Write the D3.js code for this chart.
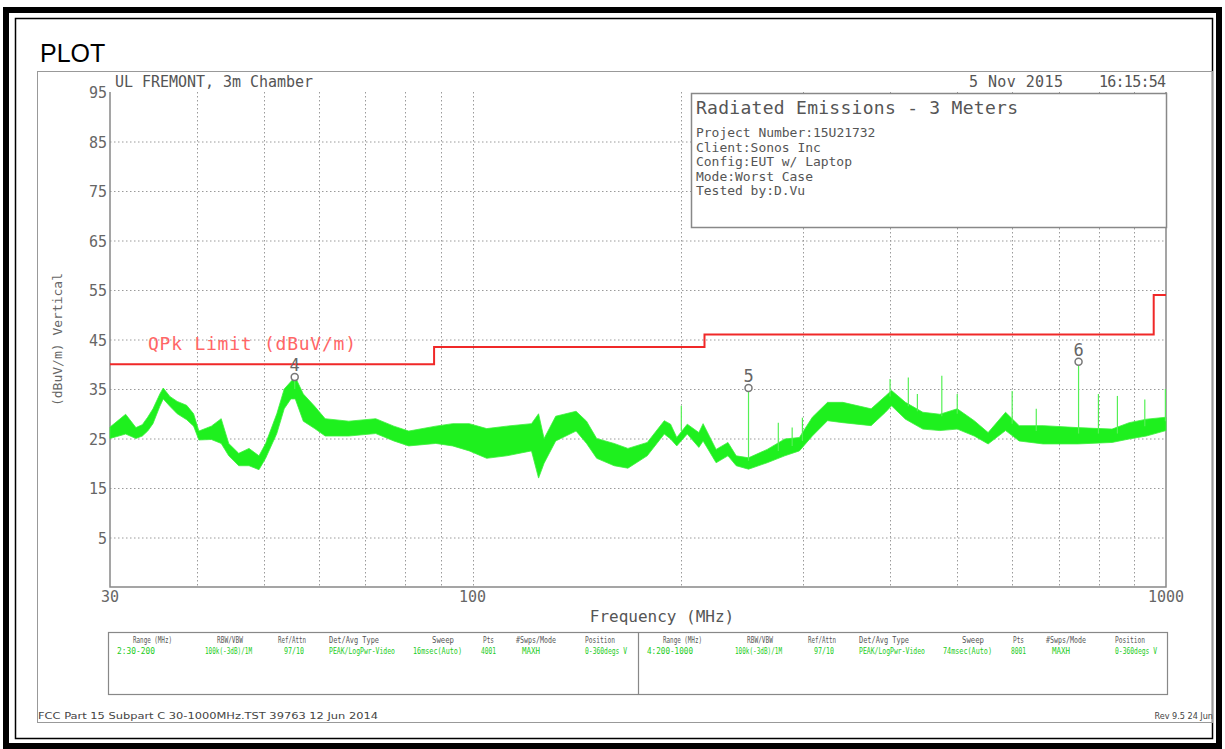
<!DOCTYPE html>
<html>
<head>
<meta charset="utf-8">
<script src="https://cdn.jsdelivr.net/npm/d3@7"></script>
<style>
  body { margin: 0; background: #fff; }
  svg text { font-family: "DejaVu Sans Mono", monospace; }
</style>
</head>
<body>
<div id="chart"></div>
<script>
// ---- data ----
// y ticks (dBuV/m) and x tick labels (MHz)
const yTicks = [5, 15, 25, 35, 45, 55, 65, 75, 85, 95];
const xGrid = [40, 50, 60, 70, 80, 90, 200, 300, 400, 500, 600, 700, 800, 900];
const xLabels = [30, 100, 1000];

// QPk limit steps (MHz, dBuV/m)
const limitFreq = [30, 88, 216, 960, 1000];
const limitLevel = [40, 43.5, 46, 54, 54];

// measured trace envelope (MHz, low, high)
const traceFreq = [30, 31.6, 32.7, 33.4, 34.0, 34.6, 35.4, 35.8, 36.6, 37.5, 38.7, 39.6, 40.3, 42.0, 43.4, 44.5, 46, 47.6, 49.2, 50.3, 52.2, 53.5, 54.7, 55.5, 57, 59.2, 61.3, 66.3, 72.5, 77, 80.9, 88.5, 93.6, 98.9, 104.8, 112, 121.6, 124.5, 126.8, 131.8, 141, 146, 151, 160, 167.5, 178.6, 189, 193, 197, 204, 212, 215, 224.5, 233.5, 240, 250, 266, 282, 296, 309, 325, 342, 375.6, 394, 402, 421, 446, 472, 500, 529, 554, 587, 614, 665, 746, 836, 885, 937, 1000];
const traceLo   = [25.0, 25.9, 25.0, 25.5, 26.5, 28.0, 31.5, 33.0, 31.5, 30.0, 28.8, 27.5, 24.7, 24.8, 24.0, 21.5, 19.5, 19.5, 18.7, 21.0, 26.0, 31.0, 33.0, 33.0, 28.5, 27.0, 25.5, 25.5, 26.0, 24.5, 23.5, 24.0, 23.5, 22.5, 21.0, 21.5, 22.5, 17.0, 20.0, 24.5, 26.5, 24.0, 21.0, 19.5, 19.0, 21.5, 25.9, 24.9, 23.5, 25.9, 23.2, 24.5, 20.1, 21.5, 19.5, 18.8, 20.1, 21.5, 22.5, 25.5, 28.6, 28.2, 27.6, 30.3, 31.6, 28.9, 26.9, 26.6, 26.9, 25.5, 23.9, 26.6, 24.5, 23.9, 23.9, 24.2, 24.9, 25.5, 26.6];
const traceHi   = [27.3, 29.9, 27.2, 27.8, 29.3, 31.0, 34.0, 35.2, 33.5, 32.5, 31.7, 30.0, 26.5, 27.5, 29.0, 24.0, 22.0, 23.0, 21.5, 24.0, 30.0, 35.0, 36.5, 37.4, 34.0, 31.5, 29.0, 28.5, 29.0, 27.5, 26.5, 27.5, 28.0, 28.0, 27.0, 27.5, 28.0, 30.0, 25.0, 29.5, 30.5, 28.5, 25.0, 24.0, 23.0, 24.2, 28.6, 27.9, 25.2, 27.9, 26.2, 28.0, 22.8, 24.2, 21.5, 21.1, 22.8, 24.9, 25.2, 29.3, 32.3, 32.3, 31.0, 33.6, 34.7, 32.3, 30.3, 29.9, 31.0, 28.6, 26.2, 30.3, 27.6, 27.6, 27.2, 26.9, 28.2, 28.9, 29.3];

// narrow spikes above the trace (MHz, top and foot in dBuV/m)
const spikeFreq = [200, 276, 289, 299, 400, 425, 438, 475, 500, 600, 650, 799, 851, 932, 998];
const spikeTop  = [31.6, 28.2, 27.2, 29.2, 37.0, 37.3, 34.0, 37.7, 34.0, 34.6, 31.0, 34.0, 33.6, 32.9, 35.0];
const spikeFoot = [26.5, 22.5, 23.5, 24.5, 33.5, 31.5, 30.5, 29.5, 30.0, 28.0, 26.5, 26.0, 26.0, 27.5, 28.5];

// markers
const markerId = ["4", "5", "6"];
const markerFreq = [55.4, 250, 748];
const markerLevel = [37.4, 35.2, 40.5];
const markerFoot = [35, 20.5, 26];

// info box lines
const infoLines = ["Project Number:15U21732", "Client:Sonos Inc", "Config:EUT w/ Laptop", "Mode:Worst Case", "Tested by:D.Vu"];

// bottom settings table
const tableHead = ["Range (MHz)", "RBW/VBW", "Ref/Attn", "Det/Avg Type", "Sweep", "Pts", "#Swps/Mode", "Position"];
const tableRow1 = ["2:30-200", "100k(-3dB)/1M", "97/10", "PEAK/LogPwr-Video", "16msec(Auto)", "4001", "MAXH", "0-360degs V"];
const tableRow2 = ["4:200-1000", "100k(-3dB)/1M", "97/10", "PEAK/LogPwr-Video", "74msec(Auto)", "8001", "MAXH", "0-360degs V"];

// ---- drawing ----
const W = 1225, H = 749;
const svg = d3.select("#chart").append("svg")
    .attr("width", W)
    .attr("height", H);

// page frame
svg.append("rect").attr("x", 6).attr("y", 10).attr("width", 1213).attr("height", 736)
    .attr("fill", "none").attr("stroke", "#000").attr("stroke-width", 6);
svg.append("rect").attr("x", 15.5).attr("y", 18.5).attr("width", 1197).attr("height", 720)
    .attr("fill", "none").attr("stroke", "#000").attr("stroke-width", 1.5);

svg.append("text").attr("x", 40).attr("y", 62)
    .style("font-family", "'Liberation Sans', Arial, sans-serif")
    .style("font-size", "25px").attr("fill", "#000").text("PLOT");

// grey box around the analyser image
svg.append("rect").attr("x", 37.5).attr("y", 71.5).attr("width", 1175).attr("height", 651)
    .attr("fill", "none").attr("stroke", "#999").attr("stroke-width", 1);

const x = d3.scaleLog().domain([30, 1000]).range([110, 1166]);
const y = d3.scaleLinear().domain([-5, 95]).range([587, 92]);

// grid
const grid = svg.append("g").attr("stroke", "#9a9a9a").attr("stroke-width", 1)
    .attr("stroke-dasharray", "1.5,2.5");
grid.selectAll("line.h").data(yTicks.slice(0, -1)).join("line")
    .attr("x1", x(30)).attr("x2", x(1000))
    .attr("y1", function(d){ return y(d) + 0.5; }).attr("y2", function(d){ return y(d) + 0.5; });
grid.selectAll("line.v").data(xGrid.concat([100])).join("line")
    .attr("x1", function(d){ return Math.round(x(d)) + 0.5; })
    .attr("x2", function(d){ return Math.round(x(d)) + 0.5; })
    .attr("y1", y(95)).attr("y2", y(-5));

// axes lines (left, bottom, right)
svg.append("path")
    .attr("d", "M" + x(30) + "," + y(95) + "V" + y(-5) + "H" + x(1000) + "V" + y(95))
    .attr("fill", "none").attr("stroke", "#888").attr("stroke-width", 1.5);

// tick labels
svg.append("g").selectAll("text").data(yTicks).join("text")
    .attr("x", x(30) - 3).attr("y", function(d){ return y(d) + 6; })
    .attr("text-anchor", "end").attr("fill", "#666").style("font-size", "15px")
    .text(function(d){ return d; });
svg.append("g").selectAll("text").data(xLabels).join("text")
    .attr("x", function(d){ return x(d); }).attr("y", y(-5) + 15)
    .attr("text-anchor", "middle").attr("fill", "#666").style("font-size", "15px")
    .text(function(d){ return d; });

svg.append("text").attr("x", 662).attr("y", 622).attr("text-anchor", "middle")
    .attr("fill", "#555").style("font-size", "16px").text("Frequency (MHz)");
svg.append("text").attr("transform", "translate(62," + y(45) + ") rotate(-90)")
    .attr("text-anchor", "middle").attr("fill", "#666").style("font-size", "13px")
    .text("(dBuV/m) Vertical");

// header texts
svg.append("text").attr("x", 115).attr("y", 87).attr("fill", "#555")
    .style("font-size", "15px").attr("textLength", 198).text("UL FREMONT, 3m Chamber");
svg.append("text").attr("x", 969).attr("y", 87).attr("fill", "#555")
    .style("font-size", "15px").attr("textLength", 94).text("5 Nov 2015");
svg.append("text").attr("x", 1099).attr("y", 87).attr("fill", "#555")
    .style("font-size", "15px").attr("textLength", 67).text("16:15:54");

// info box
svg.append("rect").attr("x", 691.5).attr("y", 93.5).attr("width", 475).attr("height", 134)
    .attr("fill", "#fff").attr("stroke", "#888").attr("stroke-width", 1.5);
svg.append("text").attr("x", 696).attr("y", 114).attr("fill", "#555")
    .style("font-size", "18px").attr("textLength", 322).text("Radiated Emissions - 3 Meters");
svg.append("g").selectAll("text").data(infoLines).join("text")
    .attr("x", 696).attr("y", function(d, i){ return 137 + i * 14.5; })
    .attr("fill", "#555").style("font-size", "13px")
    .attr("textLength", function(d){ return d.length * 7.8; })
    .text(function(d){ return d; });

// limit line
const limitPts = limitFreq.map(function(f, i){ return [f, limitLevel[i]]; });
svg.append("path").datum(limitPts)
    .attr("d", d3.line().x(function(d){ return x(d[0]); }).y(function(d){ return y(d[1]); }).curve(d3.curveStepAfter))
    .attr("fill", "none").attr("stroke", "#f02828").attr("stroke-width", 2);
svg.append("text").attr("x", 148).attr("y", 350).attr("fill", "#f66")
    .style("font-size", "18px").attr("textLength", 208).text("QPk Limit (dBuV/m)");

// trace band
const band = traceFreq.map(function(f, i){ return { f: f, lo: traceLo[i], hi: traceHi[i] }; });
svg.append("path").datum(band)
    .attr("d", d3.area().x(function(d){ return x(d.f); })
        .y0(function(d){ return y(d.lo); }).y1(function(d){ return y(d.hi); }))
    .attr("fill", "#1ef01e").attr("stroke", "#3cf03c").attr("stroke-width", 0.8)
    .attr("stroke-linejoin", "round");

// spikes
svg.append("g").selectAll("line").data(spikeFreq).join("line")
    .attr("x1", function(d){ return x(d); }).attr("x2", function(d){ return x(d); })
    .attr("y1", function(d, i){ return y(spikeTop[i]); })
    .attr("y2", function(d, i){ return y(spikeFoot[i]); })
    .attr("stroke", "#55f055").attr("stroke-width", 1.2);

// markers
const mk = svg.append("g");
markerFreq.forEach(function(f, i){
    const cx = x(f), cy = y(markerLevel[i]);
    mk.append("line").attr("x1", cx).attr("x2", cx).attr("y1", cy + 4).attr("y2", y(markerFoot[i]))
        .attr("stroke", "#55f055").attr("stroke-width", 1.2);
    mk.append("circle").attr("cx", cx).attr("cy", cy).attr("r", 3.5)
        .attr("fill", "#fff").attr("stroke", "#777").attr("stroke-width", 1.5);
    mk.append("text").attr("x", cx).attr("y", cy - 6).attr("text-anchor", "middle")
        .attr("fill", "#666").style("font-size", "17px").text(markerId[i]);
});

// settings table
svg.append("rect").attr("x", 108.5).attr("y", 632.5).attr("width", 1059).attr("height", 62)
    .attr("fill", "none").attr("stroke", "#888").attr("stroke-width", 1.2);
svg.append("line").attr("x1", 638.5).attr("x2", 638.5).attr("y1", 632.5).attr("y2", 694.5)
    .attr("stroke", "#888").attr("stroke-width", 1.2);

const headX = [133, 217, 278, 329, 432, 483, 516, 585];
const valX = [117, 205, 284, 329, 413, 481, 522, 585];
const headW = [39, 26, 28, 50, 22, 11, 40, 30];
const valW = [38, 47, 20, 66, 49, 15, 18, 42];
[[tableRow1, 0], [tableRow2, 530]].forEach(function(r){
    const g = svg.append("g").attr("transform", "translate(" + r[1] + ",0)")
        .style("font-family", "'DejaVu Sans Condensed', 'Liberation Sans Narrow', sans-serif")
        .style("font-size", "8.5px");
    g.selectAll("text.h").data(tableHead).join("text")
        .attr("x", function(d, i){ return headX[i]; }).attr("y", 643)
        .attr("fill", "#555").attr("textLength", function(d, i){ return headW[i]; })
        .attr("lengthAdjust", "spacingAndGlyphs").text(function(d){ return d; });
    g.selectAll("text.v").data(r[0]).join("text")
        .attr("x", function(d, i){ return valX[i]; }).attr("y", 654)
        .attr("fill", "#2c2").attr("textLength", function(d, i){ return valW[i] + (i === 0 && r[1] ? 8 : 0); })
        .attr("lengthAdjust", "spacingAndGlyphs").text(function(d){ return d; });
});

// footer
svg.append("text").attr("x", 38).attr("y", 719).attr("fill", "#444")
    .style("font-family", "'DejaVu Sans Condensed', sans-serif").style("font-size", "9px")
    .attr("textLength", 340).attr("lengthAdjust", "spacingAndGlyphs")
    .text("FCC Part 15 Subpart C 30-1000MHz.TST 39763 12 Jun 2014");
svg.append("text").attr("x", 1213).attr("y", 719).attr("fill", "#444").attr("text-anchor", "end")
    .style("font-family", "'DejaVu Sans Condensed', sans-serif").style("font-size", "9px")
    .text("Rev 9.5 24 Jun");
</script>
</body>
</html>
